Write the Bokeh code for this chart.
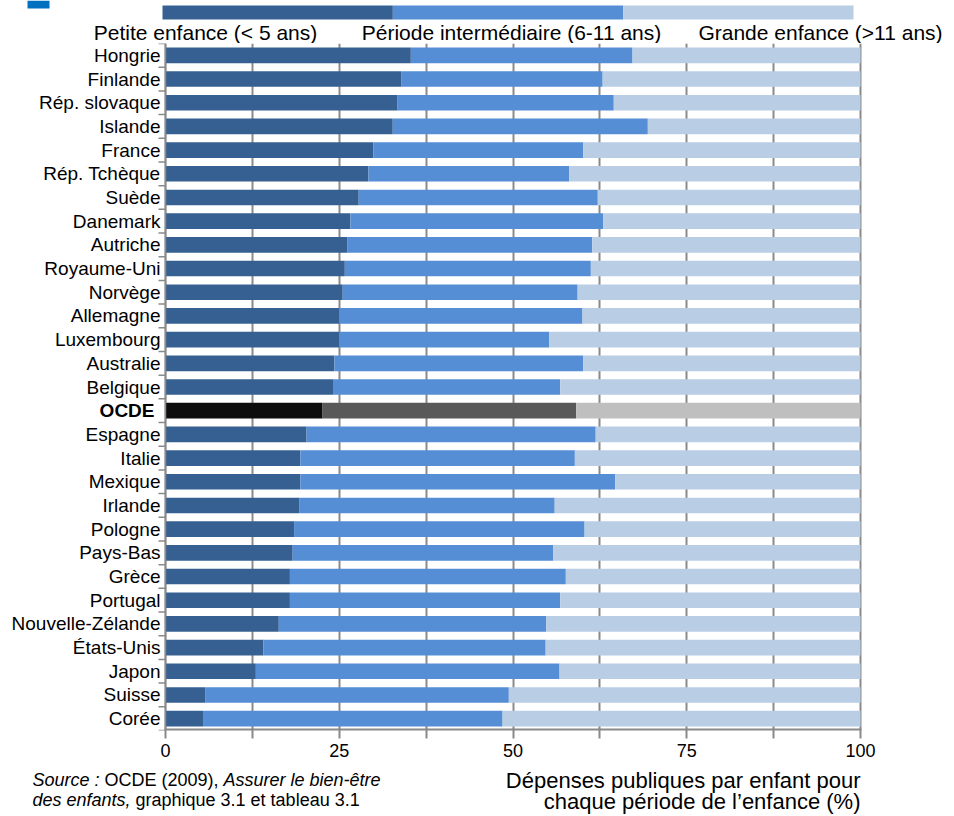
from bokeh.plotting import figure
from bokeh.models import ColumnDataSource, Range1d, FixedTicker
from bokeh.layouts import column
from bokeh.embed import file_html
from bokeh.resources import INLINE
from bokeh.core.properties import value

# ---------------- data ----------------
countries = ["Hongrie", "Finlande", "Rép. slovaque", "Islande", "France", "Rép. Tchèque",
             "Suède", "Danemark", "Autriche", "Royaume-Uni", "Norvège", "Allemagne",
             "Luxembourg", "Australie", "Belgique", "OCDE", "Espagne", "Italie", "Mexique",
             "Irlande", "Pologne", "Pays-Bas", "Grèce", "Portugal", "Nouvelle-Zélande",
             "États-Unis", "Japon", "Suisse", "Corée"]
petite = [35.3, 33.9, 33.4, 32.7, 29.9, 29.2, 27.8, 26.6, 26.2, 25.8, 25.5, 25.0,
          25.0, 24.3, 24.1, 22.6, 20.3, 19.4, 19.4, 19.3, 18.5, 18.3, 17.9, 17.9,
          16.3, 14.1, 13.0, 5.7, 5.4]
intermediaire = [31.9, 29.0, 31.1, 36.7, 30.2, 28.9, 34.4, 36.4, 35.2, 35.4, 33.8, 35.0,
                 30.2, 35.8, 32.7, 36.5, 41.6, 39.5, 45.3, 36.7, 41.8, 37.5, 39.7, 38.9,
                 38.5, 40.6, 43.7, 43.7, 43.1]
grande = [32.8, 37.1, 35.5, 30.6, 39.9, 41.9, 37.8, 37.0, 38.6, 38.8, 40.7, 40.0,
          44.8, 39.9, 43.2, 40.9, 38.1, 41.1, 35.3, 44.0, 39.7, 44.2, 42.4, 43.2,
          45.2, 45.3, 43.3, 50.6, 51.5]
series_labels = ["Petite enfance (< 5 ans)", "Période intermédiaire (6-11 ans)",
                 "Grande enfance (>11 ans)"]
highlight = "OCDE"
x_ticks = [0, 12.5, 25, 37.5, 50, 62.5, 75, 87.5, 100]
x_tick_labels = ["0", "", "25", "", "50", "", "75", "", "100"]
axis_title = ["Dépenses publiques par enfant pour", "chaque période de l’enfance (%)"]
source_line1 = [("Source :", "italic"), ("OCDE (2009),", "normal"), ("Assurer le bien-être", "italic")]
source_line2 = [("des enfants,", "italic"), ("graphique 3.1 et tableau 3.1", "normal")]

# ---------------- styles / layout ----------------
FONT = "Liberation Sans"
COLORS = ["#376092", "#558ED5", "#B9CDE5"]
COLORS_HL = ["#0D0D0D", "#595959", "#BFBFBF"]
GRID = "#8A8A8A"
W = 954
PX0, PX100 = 165, 860          # page x of value 0 and value 100
SCALE = (PX100 - PX0) / 100.0
n = len(countries)

# ---------------- legend strip (page pixel coordinates) ----------------
LEG_H = 43
leg = figure(width=W, height=LEG_H, x_range=Range1d(0, W), y_range=Range1d(LEG_H, 0),
             output_backend="svg", toolbar_location=None,
             x_axis_location=None, y_axis_location=None, min_border=0)
leg.outline_line_color = None
leg.grid.visible = False
bar_x0, bar_x1 = 162, 853
seg = (bar_x1 - bar_x0) / len(series_labels)
leg_src = ColumnDataSource(dict(
    left=[bar_x0 + i * seg for i in range(len(series_labels))],
    right=[bar_x0 + (i + 1) * seg for i in range(len(series_labels))],
    color=COLORS))
leg.hbar(y=12, height=14, left="left", right="right", fill_color="color",
         line_color=None, source=leg_src)
leg.quad(left=[27], right=[49], top=[0], bottom=[8], fill_color="#0070C0", line_color=None)
leg.text(x=[205, 511, 820], y=[32, 32, 32], text=series_labels,
         text_font=value(FONT), text_font_size="21px", text_color="black",
         text_align="center", text_baseline="middle")

# ---------------- main chart ----------------
FRAME_H = 687
cum1 = petite
cum2 = [a + b for a, b in zip(petite, intermediaire)]
cum3 = [a + b + c for a, b, c in zip(petite, intermediaire, grande)]
ys = list(range(n))
cols = [COLORS_HL if c == highlight else COLORS for c in countries]

x_start = -PX0 / SCALE
x_end = 100 + (W - PX100) / SCALE
p = figure(width=W, height=FRAME_H + 38, x_range=Range1d(x_start, x_end),
           y_range=Range1d(n - 0.5, -0.5),
           output_backend="svg", toolbar_location=None, y_axis_location=None,
           min_border_left=0, min_border_right=0, min_border_top=0, min_border_bottom=38)
p.outline_line_color = None

src = ColumnDataSource(dict(
    y=ys,
    l1=[0] * n, r1=cum1,
    l2=cum1, r2=cum2,
    l3=cum2, r3=cum3,
    c1=[c[0] for c in cols], c2=[c[1] for c in cols], c3=[c[2] for c in cols]))
for k in (1, 2, 3):
    p.hbar(y="y", height=0.66, left=f"l{k}", right=f"r{k}", fill_color=f"c{k}",
           line_color=None, source=src)

# x axis (native ticks and labels; baseline drawn only over 0..100)
p.xaxis.ticker = FixedTicker(ticks=x_ticks)
p.xaxis.major_label_overrides = {t: s for t, s in zip(x_ticks, x_tick_labels)}
p.xaxis.major_label_text_font = FONT
p.xaxis.major_label_text_font_size = "18px"
p.xaxis.major_label_text_color = "black"
p.xaxis.major_label_standoff = 5
p.xaxis.axis_line_color = None
p.xaxis.major_tick_line_color = GRID
p.xaxis.major_tick_line_width = 2
p.xaxis.major_tick_in = 2
p.xaxis.major_tick_out = 8
p.xaxis.minor_tick_line_color = None

p.xgrid.grid_line_color = GRID
p.xgrid.grid_line_width = 2
p.ygrid.grid_line_color = None

x_lo, x_hi = x_ticks[0], x_ticks[-1]
p.segment(x0=[x_lo], x1=[x_hi], y0=[n - 0.5], y1=[n - 0.5], line_color=GRID, line_width=4)

# category axis: line at 0 with ticks at category boundaries
tick_len = 7 / SCALE
bounds = [i - 0.5 for i in range(n + 1)]
p.segment(x0=[x_lo], x1=[x_lo], y0=[-0.5], y1=[n - 0.5], line_color=GRID, line_width=1.5)
p.segment(x0=[x_lo - tick_len] * len(bounds), x1=[x_lo] * len(bounds), y0=bounds, y1=bounds,
          line_color=GRID, line_width=1.5)

normal_idx = [i for i, c in enumerate(countries) if c != highlight]
hl_idx = [i for i, c in enumerate(countries) if c == highlight]
p.text(x=[x_lo] * len(normal_idx), y=normal_idx, text=[countries[i] for i in normal_idx],
       x_offset=-5, text_font=value(FONT), text_font_size="19px", text_color="black",
       text_align="right", text_baseline="middle")
p.text(x=[x_lo] * len(hl_idx), y=hl_idx, text=[countries[i] for i in hl_idx],
       x_offset=-11, text_font=value(FONT), text_font_size="19px", text_font_style="bold",
       text_color="black", text_align="right", text_baseline="middle")

# ---------------- bottom notes (page x, local y) ----------------
BOT_H = 46
bot = figure(width=W, height=BOT_H, x_range=Range1d(0, W), y_range=Range1d(BOT_H, 0),
             output_backend="svg", toolbar_location=None,
             x_axis_location=None, y_axis_location=None, min_border=0)
bot.outline_line_color = None
bot.grid.visible = False
row1_y, row2_y = 11, 31
for (t, st), sx in zip(source_line1, [32, 104, 223]):
    bot.text(x=[sx], y=[row1_y], text=[t], text_font=value(FONT), text_font_size="18px",
             text_font_style=st, text_color="black", text_align="left", text_baseline="middle")
for (t, st), sx in zip(source_line2, [32, 135]):
    bot.text(x=[sx], y=[row2_y], text=[t], text_font=value(FONT), text_font_size="18px",
             text_font_style=st, text_color="black", text_align="left", text_baseline="middle")
bot.text(x=[PX100, PX100], y=[row1_y + 1, row2_y + 2], text=axis_title, text_font=value(FONT),
         text_font_size="22px", text_color="black", text_align="right", text_baseline="middle")

layout = column(leg, p, bot)
open("out.html", "w").write(file_html(layout, INLINE))
